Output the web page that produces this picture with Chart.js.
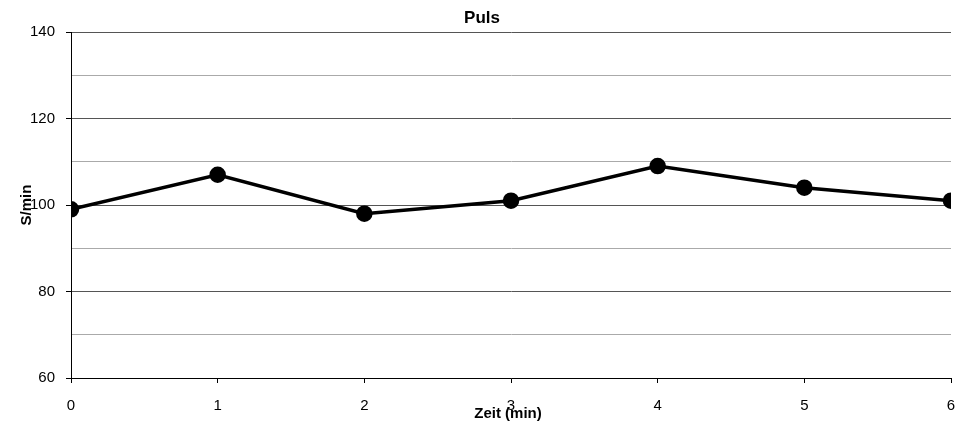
<!DOCTYPE html>
<html>
<head>
<meta charset="utf-8">
<script src="https://cdn.jsdelivr.net/npm/chart.js@4"></script>
<style>
  html, body { margin: 0; padding: 0; background: #fff; overflow: hidden; }
  #wrap { width: 963px; height: 427px; position: relative; }
  canvas { display: block; }
</style>
</head>
<body>
<div id="wrap"><canvas id="pulsChart"></canvas></div>
<script>
// Zeit in Minuten und Puls (Schläge pro Minute)
let zeit = [0, 1, 2, 3, 4, 5, 6];
let puls = [99, 107, 98, 101, 109, 104, 101];
let titel = 'Puls';
let xTitel = 'Zeit (min)';
let yTitel = 'S/min';

let font = 'Arial, "Liberation Sans", sans-serif';

// Titel und Achsentitel wie im Original (über den Tick-Beschriftungen)
let texte = {
  id: 'texte',
  afterDraw(chart) {
    let c = chart.ctx;
    let area = chart.chartArea;
    c.save();
    c.fillStyle = '#000';
    c.textAlign = 'center';
    c.textBaseline = 'middle';
    c.font = 'bold 17px ' + font;
    c.fillText(titel, 482, 18);
    c.font = 'bold 15px ' + font;
    c.fillText(xTitel, 508, 414);
    c.translate(27, (area.top + area.bottom) / 2);
    c.rotate(-Math.PI / 2);
    c.fillText(yTitel, 0, 0);
    c.restore();
  }
};

let ctx = document.getElementById('pulsChart').getContext('2d');

let myChart = new Chart(ctx, {
  type: 'line',
  data: {
    datasets: [{
      data: zeit.map((z, i) => ({ x: z, y: puls[i] })),
      borderColor: '#000',
      backgroundColor: '#000',
      borderWidth: 3.5,
      pointRadius: 6.5,
      pointBackgroundColor: '#000',
      pointBorderColor: '#000',
      tension: 0
    }]
  },
  plugins: [texte],
  options: {
    responsive: true,
    maintainAspectRatio: false,
    animation: false,
    layout: { padding: { top: 32, right: 12, bottom: 0, left: 0 } },
    plugins: {
      legend: { display: false },
      tooltip: { enabled: false },
      title: { display: false }
    },
    scales: {
      x: {
        type: 'linear',
        min: 0,
        max: 6,
        afterFit: (scale) => {
          scale.height = 49;
          scale.paddingLeft = 0;
          scale.paddingRight = 4;
        },
        ticks: {
          stepSize: 1,
          color: '#000',
          padding: 14,
          font: { family: font, size: 15 }
        },
        grid: {
          drawOnChartArea: false,
          tickLength: 5,
          color: '#000'
        },
        border: { color: '#000', width: 1 }
      },
      y: {
        min: 60,
        max: 140,
        afterFit: (scale) => { scale.width = 71; },
        ticks: {
          stepSize: 10,
          color: '#000',
          padding: 11,
          font: { family: font, size: 15 },
          callback: (v) => (v % 20 === 0 ? v : '')
        },
        grid: {
          tickLength: 5,
          lineWidth: 1,
          color: (c) => (c.tick && c.tick.value % 20 === 0 ? '#555' : '#aaa'),
          tickColor: (c) => (c.tick && c.tick.value % 20 === 0 ? '#000' : 'rgba(0,0,0,0)')
        },
        border: { color: '#000', width: 1 }
      }
    }
  }
});
</script>
</body>
</html>
